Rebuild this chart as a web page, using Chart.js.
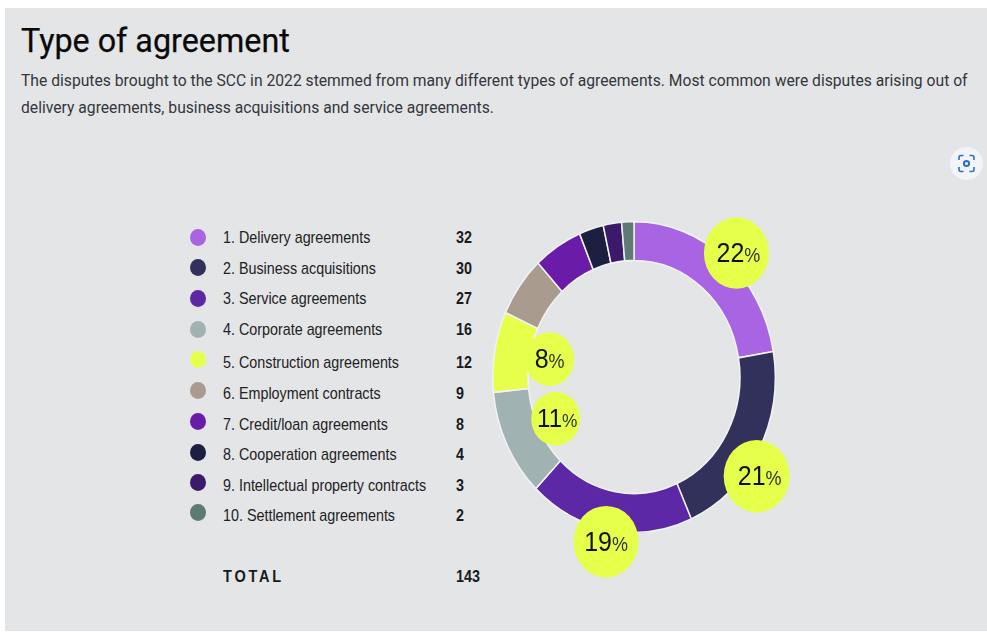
<!DOCTYPE html>
<html><head><meta charset="utf-8">
<script src="https://cdn.jsdelivr.net/npm/chart.js@4"></script>
<style>
html,body{margin:0;padding:0;background:#fff;width:987px;height:632px;overflow:hidden}
#panel{position:absolute;left:5px;top:8px;width:982px;height:623px;background:#e4e5e7}
#c{position:absolute;left:0;top:0}
h1{position:absolute;left:21px;top:21px;margin:0;font:400 32.3px/40px Roboto,sans-serif;color:#0a0a0a;white-space:nowrap;-webkit-text-stroke:.25px #0a0a0a}
p{position:absolute;left:21px;top:68px;margin:0;width:965px;font:400 15.68px/26.5px Roboto,sans-serif;color:#33363c}
.t{position:absolute;font:400 14.33px/18px "Liberation Sans",Arial,sans-serif;color:#222;white-space:nowrap;transform:scaleY(1.1);transform-origin:0 50%}
.n{font-weight:700;color:#1a1a1a}
.m{position:absolute;width:16px;height:17px;border-radius:50%}
#btn{position:absolute;left:950px;top:147px;width:33px;height:33px;border-radius:50%;background:#f2f4f7}
</style></head><body>
<div id="panel"></div>
<h1>Type of agreement</h1>
<p>The disputes brought to the SCC in 2022 stemmed from many different types of agreements. Most common were disputes arising out of delivery agreements, business acquisitions and service agreements.</p>
<div id="legend"></div>
<div id="btn"><svg width="33" height="33" viewBox="0 0 33 33" fill="none" stroke="#2b6fc4" stroke-width="1.6"><path d="M9 13v-2.5a2 2 0 0 1 2-2h2.5M19.5 8.5H22a2 2 0 0 1 2 2V13M24 20v2.500a2 2 0 0 1-2 2h-2.500M13.500 24.500H11a2 2 0 0 1-2-2V20"/><circle cx="16.500" cy="16.500" r="2.600" stroke-width="2"/></svg></div>
<canvas id="c" width="987" height="632"></canvas>
<script>
// Data
const categories = ["1. Delivery agreements","2. Business acquisitions","3. Service agreements","4. Corporate agreements","5. Construction agreements","6. Employment contracts","7. Credit/loan agreements","8. Cooperation agreements","9. Intellectual property contracts","10. Settlement agreements"];
const values = [32,30,27,16,12,9,8,4,3,2];
const totalLabel = "TOTAL";
const totalValue = 143;
const bubblePercents = ["22","21","19","11","8"];

// Styles and layout
const colors = ["#a864e2","#31315c","#5c28a5","#a0b2b1","#e6ff4b","#a99c8e","#6a1ba8","#1c1f3f","#3c1a6b","#5d7a74"];
const bubbleColor = "#e6ff4b";
const bubbleStyle = [
  {out:11,turn:2,rx:32.5,size:25,dx:2},{out:11,turn:8,rx:33,size:25,dx:3},{out:11,turn:0.5,rx:32.5,size:25,dx:0},
  {out:-19,turn:0,rx:24.5,size:24,dx:1.5},{out:-20,turn:1.4,rx:24.5,size:25,dx:0}
];
const rowY = [237,268,298,329,362,393,424,454,485,515];
const markerY = [237,267,298,329,359,390,421,452,482,512];
const totalY = 577;
const stretchY = 1.1, cy = 377;

const legend = document.getElementById('legend');
function addText(txt,x,y,cls,extra){
  const d=document.createElement('div');d.className='t '+(cls||'');d.textContent=txt;
  d.style.left=x+'px';d.style.top=(y-9)+'px';if(extra)d.style.cssText+=extra;legend.appendChild(d);
}
categories.forEach((c,i)=>{
  const m=document.createElement('div');m.className='m';m.style.left='189.500px';m.style.top=(markerY[i]-8.5)+'px';m.style.background=colors[i];legend.appendChild(m);
  addText(c,223,rowY[i]);
  addText(String(values[i]),456,rowY[i],'n');
});
addText(totalLabel,223,totalY,'n','letter-spacing:2.8px;font-size:14.5px;');
addText(String(totalValue),456,totalY,'n');

const stretch = {
  id:'stretch',
  beforeDatasetsDraw(chart){
    const c=chart.ctx;c.save();c.translate(0,cy);c.scale(1,stretchY);c.translate(0,-cy);
  },
  afterDatasetsDraw(chart){
    const c=chart.ctx;
    chart.getDatasetMeta(0).data.slice(0,bubblePercents.length).forEach((a,i)=>{
      const s=bubbleStyle[i];
      const mid=(a.startAngle+a.endAngle)/2+s.turn*Math.PI/180;
      const r=(s.out>0?a.outerRadius:a.innerRadius)+s.out;
      const x=a.x+Math.cos(mid)*r,y=a.y+Math.sin(mid)*r;
      c.fillStyle=bubbleColor;c.beginPath();c.arc(x,y,s.rx,0,Math.PI*2);c.fill();
      const big=bubblePercents[i];
      c.textBaseline='alphabetic';c.textAlign='left';
      c.font=s.size+'px "Liberation Sans",Arial,sans-serif';
      const w1=c.measureText(big).width;
      const f2=s.size*0.72;
      c.font=f2+'px "Liberation Sans",Arial,sans-serif';
      const w2=c.measureText('%').width;
      const x0=x-(w1+w2)/2+s.dx;
      const base=y+s.size*0.33;
      c.fillStyle='#111';
      c.font=s.size+'px "Liberation Sans",Arial,sans-serif';c.fillText(big,x0,base);
      c.fillStyle='#333';
      c.font=f2+'px "Liberation Sans",Arial,sans-serif';c.fillText('%',x0+w1,base);
    });
    c.restore();
  }
};

new Chart(document.getElementById('c'),{
  type:'doughnut',
  data:{labels:categories,datasets:[{data:values,backgroundColor:colors,borderColor:'#f1f2f4',borderWidth:1.5,borderAlign:'center'}]},
  options:{
    responsive:false,animation:false,cutout:'75%',
    layout:{padding:{left:492,right:211,top:235,bottom:113}},
    plugins:{legend:{display:false},tooltip:{enabled:false}},
    events:[]
  },
  plugins:[stretch]
});
</script>
</body></html>
